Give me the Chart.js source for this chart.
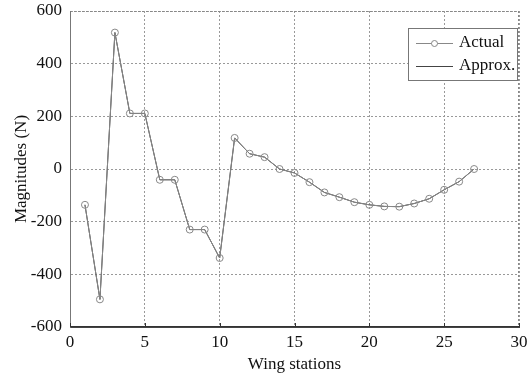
<!DOCTYPE html>
<html><head><meta charset="utf-8">
<script src="https://cdn.jsdelivr.net/npm/chart.js@4/dist/chart.umd.min.js"></script>
<style>html,body{margin:0;padding:0;background:#fff}#w{width:532px;height:379px}</style>
</head><body><div id="w"><canvas id="c"></canvas></div>
<script>
const stations = [1,2,3,4,5,6,7,8,9,10,11,12,13,14,15,16,17,18,19,20,21,22,23,24,25,26,27];
const actual = [-136,-495,518,211,211,-41,-41,-230,-230,-338,118,58,45,0,-15,-50,-89,-107,-126,-136,-142,-143,-131,-113,-79,-48,0];
const approx = [-136,-495,518,211,211,-41,-41,-230,-230,-338,118,58,45,0,-15,-50,-89,-107,-126,-136,-142,-143,-131,-113,-79,-48,0];
const xTicks = [0,5,10,15,20,25,30];
const yTicks = [-600,-400,-200,0,200,400,600];
const FONT = "'Liberation Serif','Times New Roman',serif";

const legendPlugin = {
  id:'boxLegend',
  afterDraw(chart){
    const ctx = chart.ctx;
    const x0=408,y0=28,w=109,h=52;
    ctx.save();
    ctx.fillStyle='#fff';ctx.fillRect(x0,y0,w,h);
    ctx.strokeStyle='#777';ctx.lineWidth=1;ctx.strokeRect(x0+0.5,y0+0.5,w,h);
    ctx.font='17px '+FONT;ctx.fillStyle='#111';ctx.textBaseline='middle';
    ctx.strokeStyle='#888';ctx.beginPath();ctx.moveTo(416,43.5);ctx.lineTo(453,43.5);ctx.stroke();
    ctx.beginPath();ctx.arc(434.5,43.5,3,0,Math.PI*2);ctx.fillStyle='#fff';ctx.fill();ctx.stroke();
    ctx.fillStyle='#111';ctx.fillText('Actual',459,43);
    ctx.strokeStyle='#444';ctx.beginPath();ctx.moveTo(416,66.5);ctx.lineTo(453,66.5);ctx.stroke();
    ctx.fillText('Approx.',459,66);
    ctx.restore();
  }
};

new Chart(document.getElementById('c'),{
  type:'line',
  data:{datasets:[
    {label:'Actual',data:stations.map((s,i)=>({x:s,y:actual[i]})),borderColor:'#888',borderWidth:1,
     pointRadius:3.5,pointBackgroundColor:'rgba(255,255,255,0)',pointBorderColor:'#888',pointBorderWidth:1,tension:0},
    {label:'Approx.',data:stations.map((s,i)=>({x:s,y:approx[i]})),borderColor:'#333',borderWidth:1,pointRadius:0,tension:0}
  ]},
  options:{
    responsive:true,maintainAspectRatio:false,animation:false,
    layout:{padding:{top:11,right:13,left:0,bottom:0}},
    plugins:{legend:{display:false},tooltip:{enabled:false}},
    scales:{
      x:{type:'linear',min:0,max:30,
        afterBuildTicks(ax){ax.ticks=xTicks.map(v=>({value:v}));},
        afterFit(ax){ax.height=52;ax.paddingLeft=0;ax.paddingRight=0;},
        grid:{color:'#999',lineWidth:1,drawTicks:false,tickLength:0},
        border:{display:true,color:'#444',width:1,dash:[2,2]},
        ticks:{color:'#111',font:{family:FONT,size:17},padding:5,maxRotation:0},
        title:{display:true,text:'Wing stations',color:'#111',font:{family:FONT,size:17},padding:{top:0,bottom:4}}
      },
      y:{min:-600,max:600,
        afterBuildTicks(ax){ax.ticks=yTicks.map(v=>({value:v}));},
        afterFit(ax){ax.width=70;ax.paddingTop=0;ax.paddingBottom=0;},
        grid:{color:'#999',lineWidth:1,drawTicks:false,tickLength:0},
        border:{display:true,color:'#666',width:1,dash:[2,2]},
        ticks:{color:'#111',font:{family:FONT,size:17},padding:8},
        title:{display:true,text:'Magnitudes (N)',color:'#111',font:{family:FONT,size:17},padding:{top:11,bottom:0}}
      }
    }
  },
  plugins:[legendPlugin,{
    id:'frame',
    afterDraw(chart){
      const a=chart.chartArea,ctx=chart.ctx;ctx.save();
      ctx.strokeStyle='#888';ctx.lineWidth=1;ctx.setLineDash([2,2]);
      ctx.beginPath();ctx.moveTo(a.left,a.top+0.5);ctx.lineTo(a.right,a.top+0.5);
      ctx.moveTo(a.right-0.5,a.top);ctx.lineTo(a.right-0.5,a.bottom);ctx.stroke();
      ctx.setLineDash([]);
      ctx.strokeStyle='#777';ctx.beginPath();ctx.moveTo(a.left+0.5,a.top);ctx.lineTo(a.left+0.5,a.bottom);ctx.stroke();
      ctx.strokeStyle='#333';ctx.beginPath();ctx.moveTo(a.left,a.bottom-0.5);ctx.lineTo(a.right,a.bottom-0.5);ctx.stroke();
      const xs=chart.scales.x;
      xTicks.forEach(v=>{const px=Math.round(xs.getPixelForValue(v))+0.5;ctx.beginPath();ctx.moveTo(px,a.bottom);ctx.lineTo(px,a.bottom-4);ctx.stroke();});
      ctx.restore();
    }
  }]
});
</script></body></html>
